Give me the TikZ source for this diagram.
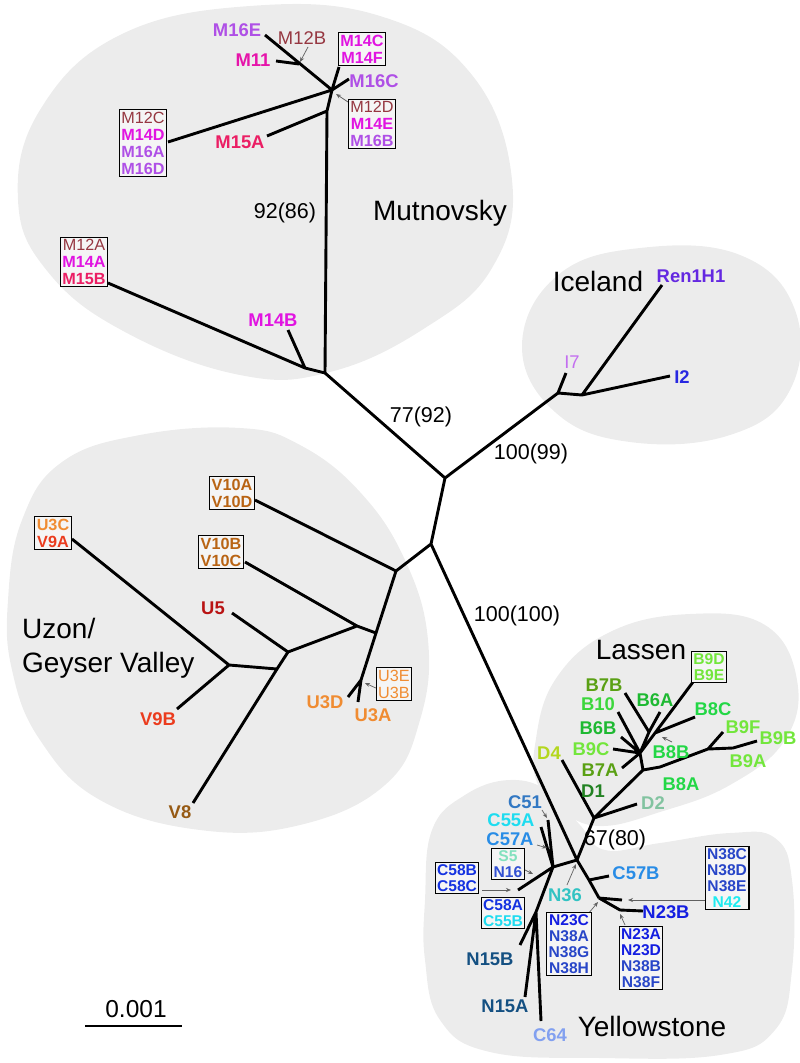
\documentclass[tikz,border=0pt]{standalone}
\usepackage{fontspec}
\setmainfont{Liberation Sans}
\usetikzlibrary{arrows.meta}
\definecolor{blob}{RGB}{236,236,236}
\definecolor{cM12}{RGB}{150,55,65}
\definecolor{cM14}{RGB}{225,20,225}
\definecolor{cM15}{RGB}{235,30,100}
\definecolor{cM16}{RGB}{175,80,230}
\definecolor{cM11}{RGB}{230,20,170}
\definecolor{cU3}{RGB}{240,140,50}
\definecolor{cV9}{RGB}{235,60,30}
\definecolor{cV10}{RGB}{185,100,20}
\definecolor{cU5}{RGB}{185,20,20}
\definecolor{cV8}{RGB}{150,90,20}
\definecolor{cRen}{RGB}{100,40,225}
\definecolor{cI7}{RGB}{195,110,240}
\definecolor{cI2}{RGB}{40,40,225}
\definecolor{cB7}{RGB}{90,160,20}
\definecolor{cB10}{RGB}{60,215,60}
\definecolor{cB6}{RGB}{30,185,50}
\definecolor{cB9}{RGB}{115,230,60}
\definecolor{cB8}{RGB}{35,215,70}
\definecolor{cD4}{RGB}{180,215,30}
\definecolor{cD1}{RGB}{35,130,35}
\definecolor{cD2}{RGB}{130,195,160}
\definecolor{cC51}{RGB}{50,120,195}
\definecolor{cC55}{RGB}{30,220,240}
\definecolor{cC57}{RGB}{40,140,230}
\definecolor{cS5}{RGB}{130,225,190}
\definecolor{cN16}{RGB}{50,80,210}
\definecolor{cC58}{RGB}{20,50,225}
\definecolor{cN36}{RGB}{50,195,195}
\definecolor{cN23}{RGB}{20,30,225}
\definecolor{cN38}{RGB}{40,70,200}
\definecolor{cN42}{RGB}{30,235,240}
\definecolor{cN15}{RGB}{20,80,130}
\definecolor{cC64}{RGB}{130,160,240}
\newcommand\mtwelve[1]{{\mdseries\color{cM12}#1}}
\begin{document}
\begin{tikzpicture}[x=1pt,y=-1pt,
  br/.style={line width=2.9pt,line join=round},
  tip/.style={font=\fontsize{18.4}{19}\selectfont\bfseries,inner sep=0pt},
  tipm/.style={font=\fontsize{18.4}{19}\selectfont,inner sep=0pt,text=cM12},
  grp/.style={font=\fontsize{28}{30}\selectfont,inner sep=0pt},
  boot/.style={font=\fontsize{21.5}{23}\selectfont,inner sep=0pt},
  bx/.style={draw,line width=1.1pt,fill=white!96!black,inner sep=2pt,align=center,font=\fontsize{16.2}{17}\selectfont\bfseries},
  bxs/.style={bx,font=\fontsize{15.6}{15.8}\selectfont\bfseries},
  ptr/.style={-{Stealth[length=5pt,width=4pt]},line width=0.7pt,draw=gray!75!black}]
\useasboundingbox (0,0) rectangle (800,1063);
% background blobs
\fill[blob] plot[smooth cycle,tension=0.7] coordinates {(18,200) (40,110) (120,35) (250,6) (380,16) (472,75) (512,180) (492,268) (425,328) (330,372) (240,375) (125,332) (48,272)};
\fill[blob] plot[smooth cycle,tension=0.7] coordinates {(522,345) (558,275) (640,248) (740,255) (795,310) (790,390) (730,435) (630,442) (555,412)};
\fill[blob] plot[smooth cycle,tension=0.7] coordinates {(8,600) (22,520) (62,462) (140,435) (240,428) (300,445) (360,492) (405,560) (428,640) (420,720) (385,785) (300,825) (200,830) (100,800) (40,740) (12,670)};
\fill[blob] plot[smooth cycle,tension=0.7] coordinates {(535,745) (555,680) (610,632) (690,614) (765,625) (797,680) (785,740) (730,785) (660,812) (600,826) (560,810) (538,785)};
\fill[blob] plot[smooth cycle,tension=0.7] coordinates {(425,900) (432,830) (465,795) (510,780) (550,792) (580,825) (605,850) (660,843) (730,833) (775,838) (792,880) (792,970) (775,1030) (720,1055) (600,1058) (490,1052) (440,1020) (425,960)};
% coordinates
\coordinate (A) at (445,478); \coordinate (B) at (431,544); \coordinate (C) at (325,373);
\coordinate (D) at (558,393); \coordinate (E) at (396,571); \coordinate (L) at (577,860);
\coordinate (M) at (594,818);
% Mutnovsky
\coordinate (Cm) at (305,368); \coordinate (tM12A) at (108,283); \coordinate (tM14B) at (288,330);
\coordinate (V1) at (327,111); \coordinate (tM15A) at (267,136); \coordinate (V2) at (332,90);
\coordinate (tM12C) at (168,142); \coordinate (tM16C) at (349,79); \coordinate (tM14C) at (339,67);
\coordinate (tM16E) at (265,35); \coordinate (tM11) at (276,61); \coordinate (jM11) at (299,64);
% Iceland
\coordinate (Di) at (582,395); \coordinate (tI7) at (566,373); \coordinate (tRen) at (662,285); \coordinate (tI2) at (670,376);
% Uzon
\coordinate (F) at (376,633); \coordinate (G) at (361,680); \coordinate (tV10A) at (255,500);
\coordinate (tV10B) at (245,562); \coordinate (H) at (357,626); \coordinate (I) at (288,652);
\coordinate (tU5) at (232,613); \coordinate (J) at (277,669); \coordinate (tV8) at (193,803);
\coordinate (K) at (229,665); \coordinate (tU3C) at (72,539); \coordinate (tV9B) at (177,709);
\coordinate (tU3D) at (348,697); \coordinate (tU3A) at (358,702);
% Lassen
\coordinate (N) at (643,770); \coordinate (O) at (640,753); \coordinate (Q) at (708,749);
\coordinate (bB9) at (733,748); \coordinate (tB9B) at (757,741); \coordinate (tB9F) at (723,732);
\coordinate (bB8) at (660,767); \coordinate (tB7B) at (625,693); \coordinate (tB10) at (618,712);
\coordinate (tB6B) at (621,737); \coordinate (tB9C) at (613,749); \coordinate (tB7A) at (622,768);
\coordinate (R1) at (655,733); \coordinate (R2) at (649,732); \coordinate (tB9D) at (693,682);
\coordinate (tB6A) at (660,712); \coordinate (tB8C) at (695,717); \coordinate (tD2) at (637,804);
\coordinate (tD4) at (562,760);
% Yellowstone
\coordinate (S) at (589,880); \coordinate (tC57B) at (609,876); \coordinate (T) at (599,898);
\coordinate (tN38) at (622,900); \coordinate (bN23) at (620,910); \coordinate (tN23B) at (643,911);
\coordinate (U) at (553,867); \coordinate (tC51) at (548,820); \coordinate (tC55A) at (541,827);
\coordinate (tC58B) at (518,890); \coordinate (V) at (536,912); \coordinate (tN15B) at (520,945);
\coordinate (tN15A) at (525,997); \coordinate (tC64) at (541,1021);
% branches
\draw[br] (A)--(C) (A)--(D) (A)--(B) (B)--(E) (B)--(L);
\draw[br] (C)--(Cm)--(tM12A) (Cm)--(tM14B) (C)--(V1)--(V2) (V1)--(tM15A)
  (V2)--(tM12C) (V2)--(tM16C) (V2)--(tM14C) (V2)--(tM16E) (tM11)--(jM11);
\draw[br] (D)--(tI7) (D)--(Di)--(tRen) (Di)--(tI2);
\draw[br] (E)--(tV10A) (E)--(F)--(G) (tV10B)--(H)--(F) (H)--(I) (I)--(tU5) (I)--(J)--(tV8)
  (J)--(K) (K)--(tU3C) (K)--(tV9B) (G)--(tU3D) (G)--(tU3A);
\draw[br] (L)--(M)--(N)--(O) (M)--(tD2) (M)--(tD4) (N)--(bB8)--(Q)--(bB9)--(tB9B) (Q)--(tB9F)
  (O)--(tB10) (O)--(tB6B) (O)--(tB9C) (O)--(tB7A) (O)--(R2)--(tB7B) (R2)--(tB6A)
  (O)--(R1)--(tB9D) (R1)--(tB8C);
\draw[br] (L)--(S)--(T) (S)--(tC57B) (T)--(tN38) (T)--(bN23)--(tN23B)
  (L)--(U) (U)--(tC51) (U)--(tC55A) (U)--(tC58B) (U)--(V) (V)--(tN15B) (V)--(tN15A) (V)--(tC64);
% pointer arrows
\coordinate (pM12Ba) at (308,47); \coordinate (pM12Bb) at (300,62);
\coordinate (pM12Da) at (348,102); \coordinate (pM12Db) at (336,94);
\coordinate (pU3a) at (378,689); \coordinate (pU3b) at (365,683);
\coordinate (pB8Ba) at (672,742); \coordinate (pB8Bb) at (662,737);
\coordinate (pC51a) at (542,810); \coordinate (pC51b) at (547,818);
\coordinate (pC57a) at (537,845); \coordinate (pC57b) at (547,848);
\coordinate (pS5a) at (525,870); \coordinate (pS5b) at (533,874);
\coordinate (pC58a) at (482,890); \coordinate (pC58b) at (511,890);
\coordinate (pN36a) at (567,885); \coordinate (pN36b) at (576,864);
\coordinate (pN23Ca) at (588,914); \coordinate (pN23Cb) at (598,902);
\coordinate (pN23Aa) at (625,925); \coordinate (pN23Ab) at (620,914);
\coordinate (pN38a) at (705,900); \coordinate (pN38b) at (628,900);
\foreach \p in {M12B,M12D,U3,B8B,C51,C57,S5,C58,N36,N23C,N23A,N38}{\draw[ptr] (p\p a)--(p\p b);}
% group labels
\node[grp] (gMut) at (440,213) {Mutnovsky};
\node[grp] (gIce) at (598,281) {Iceland};
\node[grp,anchor=west,align=left,font=\fontsize{28}{34}\selectfont] (gUzon) at (22,648) {Uzon/\\Geyser Valley};
\node[grp] (gLas) at (641,650) {Lassen};
\node[grp] (gYel) at (652,1026) {Yellowstone};
% bootstrap labels
\node[boot] (b1) at (285,213) {92(86)};
\node[boot] (b2) at (421,417) {77(92)};
\node[boot] (b3) at (531,454) {100(99)};
\node[boot] (b4) at (517,616) {100(100)};
\node[boot] (b5) at (615,840) {67(80)};
% Mutnovsky labels
\node[tip,text=cM16] (lM16E) at (237,30) {M16E};
\node[tip,text=cM11] (lM11) at (253,60) {M11};
\node[tipm] (lM12B) at (302,38) {M12B};
\node[tip,text=cM16] (lM16C) at (374,81) {M16C};
\node[tip,text=cM15] (lM15A) at (240,142) {M15A};
\node[tip,text=cM14] (lM14B) at (273,320) {M14B};
\node[bx] (xM14C) at (362,49) {\textcolor{cM14}{M14C}\\\textcolor{cM14}{M14F}};
\node[bx] (xM12D) at (372,124) {\mtwelve{M12D}\\\textcolor{cM14}{M14E}\\\textcolor{cM16}{M16B}};
\node[bx] (xM12C) at (143,143) {\mtwelve{M12C}\\\textcolor{cM14}{M14D}\\\textcolor{cM16}{M16A}\\\textcolor{cM16}{M16D}};
\node[bx] (xM12A) at (84,262) {\mtwelve{M12A}\\\textcolor{cM14}{M14A}\\\textcolor{cM15}{M15B}};
% Iceland labels
\node[tip,text=cRen] (lRen) at (691,276) {Ren1H1};
\node[tip,text=cI7,font=\fontsize{18.4}{19}\selectfont] (lI7) at (572,362) {I7};
\node[tip,text=cI2] (lI2) at (682,377) {I2};
% Uzon labels
\node[bx] (xV10A) at (232,493) {\textcolor{cV10}{V10A}\\\textcolor{cV10}{V10D}};
\node[bx] (xU3C) at (53,533) {\textcolor{cU3}{U3C}\\\textcolor{cV9}{V9A}};
\node[bx] (xV10B) at (221,552) {\textcolor{cV10}{V10B}\\\textcolor{cV10}{V10C}};
\node[bx,font=\fontsize{16.2}{17}\selectfont] (xU3E) at (394,684) {\textcolor{cU3}{U3E}\\\textcolor{cU3}{U3B}};
\node[tip,text=cU5] (lU5) at (213,608) {U5};
\node[tip,text=cV9] (lV9B) at (158,719) {V9B};
\node[tip,text=cV8] (lV8) at (180,812) {V8};
\node[tip,text=cU3] (lU3D) at (325,702) {U3D};
\node[tip,text=cU3] (lU3A) at (373,715) {U3A};
% Lassen labels
\node[tip,text=cB7] (lB7B) at (604,685) {B7B};
\node[tip,text=cB10] (lB10) at (598,704) {B10};
\node[tip,text=cB6] (lB6B) at (598,728) {B6B};
\node[tip,text=cB9] (lB9C) at (591,749) {B9C};
\node[tip,text=cB7] (lB7A) at (600,770) {B7A};
\node[tip,text=cD4] (lD4) at (549,753) {D4};
\node[tip,text=cD1] (lD1) at (593,791) {D1};
\node[tip,text=cD2] (lD2) at (653,803) {D2};
\node[tip,text=cB6] (lB6A) at (655,700) {B6A};
\node[tip,text=cB8] (lB8C) at (713,709) {B8C};
\node[tip,text=cB8] (lB8B) at (671,752) {B8B};
\node[tip,text=cB8] (lB8A) at (681,784) {B8A};
\node[tip,text=cB9] (lB9F) at (743,727) {B9F};
\node[tip,text=cB9] (lB9B) at (778,738) {B9B};
\node[tip,text=cB9] (lB9A) at (748,761) {B9A};
\node[bxs] (xB9D) at (709,667) {\textcolor{cB9}{B9D}\\\textcolor{cB9}{B9E}};
% Yellowstone labels
\node[tip,text=cC51] (lC51) at (525,802) {C51};
\node[tip,text=cC55] (lC55A) at (511,820) {C55A};
\node[tip,text=cC57] (lC57A) at (510,839) {C57A};
\node[bxs] (xS5) at (508,864) {\textcolor{cS5}{S5}\\\textcolor{cN16}{N16}};
\node[bxs] (xC58B) at (457,878) {\textcolor{cC58}{C58B}\\\textcolor{cC58}{C58C}};
\node[bxs] (xC58A) at (503,913) {\textcolor{cC58}{C58A}\\\textcolor{cC55}{C55B}};
\node[tip,text=cN36] (lN36) at (565,895) {N36};
\node[tip,text=cC57] (lC57B) at (636,873) {C57B};
\node[tip,text=cN23] (lN23B) at (666,912) {N23B};
\node[bxs] (xN38C) at (727,878) {\textcolor{cN38}{N38C}\\\textcolor{cN38}{N38D}\\\textcolor{cN38}{N38E}\\\textcolor{cN42}{N42}};
\node[bxs] (xN23C) at (569,944) {\textcolor{cN23}{N23C}\\\textcolor{cN38}{N38A}\\\textcolor{cN38}{N38G}\\\textcolor{cN38}{N38H}};
\node[bxs] (xN23A) at (641,958) {\textcolor{cN23}{N23A}\\\textcolor{cN23}{N23D}\\\textcolor{cN38}{N38B}\\\textcolor{cN38}{N38F}};
\node[tip,text=cN15] (lN15B) at (490,959) {N15B};
\node[tip,text=cN15] (lN15A) at (505,1006) {N15A};
\node[tip,text=cC64] (lC64) at (550,1035) {C64};
% scale bar
\coordinate (sb1) at (85,1026); \coordinate (sb2) at (182,1026);
\draw[line width=2.6pt] (sb1)--(sb2);
\node[boot,font=\fontsize{24.5}{26}\selectfont] (lsb) at (136,1009) {0.001};
\end{tikzpicture}
\end{document}
